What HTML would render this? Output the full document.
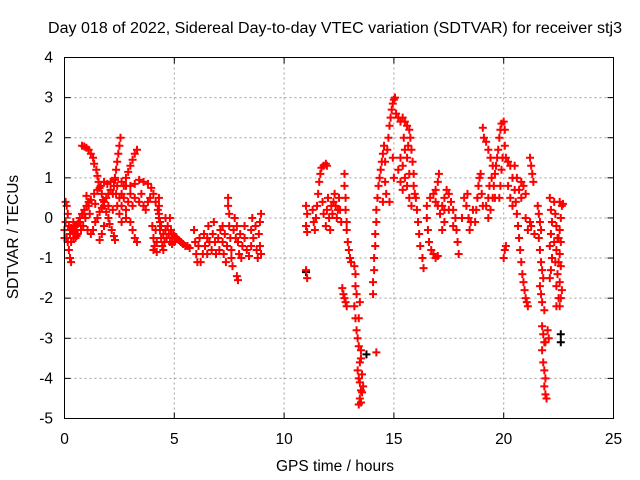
<!DOCTYPE html>
<html><head><meta charset="utf-8"><style>
body{margin:0;background:#fff}
svg{display:block;font-family:"Liberation Sans",sans-serif}
</style></head><body>
<svg id="chart" width="640" height="480" viewBox="0 0 640 480">
<text x="48" y="33" font-size="15.5" textLength="574" lengthAdjust="spacingAndGlyphs">Day 018 of 2022, Sidereal Day-to-day VTEC variation (SDTVAR) for receiver stj3</text>
<text x="0" y="0" font-size="15.5" text-anchor="middle" transform="translate(18,237) rotate(-90)">SDTVAR / TECUs</text>
<text x="335" y="471" font-size="15.5" text-anchor="middle">GPS time / hours</text>
<g id="grid"></g>
<g id="ticks"></g>
<g id="marks"></g>
<rect x="64.5" y="57.5" width="549" height="361" fill="none" stroke="#000"/>
</svg>
<script>
const xTicks=[0,5,10,15,20,25];
const yTicks=[-5,-4,-3,-2,-1,0,1,2,3,4];
const redPoints=[
[0,-0.3],[0.05,-0.1],[0.05,0.4],[0.1,0.3],[0.15,0.1],[0.1,-0.5],[0.2,-0.2],[0.25,-0.4],[0.2,-0.8],[0.25,-1.0],[0.3,-1.1],[0.3,-0.6],[0.35,-0.3],[0.4,-0.1],[0.45,-0.35],[0.5,-0.5],[0.55,-0.2],[0.6,-0.4],[0.65,-0.1],[0.7,0.0],[0.75,-0.3],[0.8,0.1],[0.85,-0.2],[0.9,0.2],[0.95,0.0],[1.0,0.3],[1.05,-0.3],[1.1,0.4],[1.15,0.1],[0.0,-0.5],[0.15,-0.6],[0.4,-0.5],[0.55,-0.45],
[0.8,1.8],[0.9,1.78],[1.0,1.75],[1.1,1.7],[1.2,1.6],[1.3,1.5],[1.35,1.35],[1.45,1.2],[1.5,1.05],[1.55,0.9],[1.6,0.75],[1.7,0.6],[1.75,0.45],[1.8,0.3],[1.9,0.15],[2.0,0.0],[2.05,-0.15],[2.15,-0.3],[2.25,-0.45],[2.3,-0.55],
[0.5,-0.3],[0.7,-0.1],[0.9,0.1],[1.1,0.3],[1.2,0.45],[1.35,0.6],[1.5,0.7],[1.65,0.8],[1.8,0.9],[1.95,0.85],[2.1,0.9],[2.3,0.95],
[1.2,-0.4],[1.3,-0.3],[1.4,-0.1],[1.5,0.0],[1.6,0.15],[1.7,0.25],[1.8,0.4],[1.9,0.5],[2.0,0.6],[2.1,0.7],[2.2,0.6],[2.4,0.8],[2.6,0.9],[2.8,0.8],[1.6,-0.55],[1.7,-0.4],[1.8,-0.2],
[2.25,0.8],[2.3,1.0],[2.35,1.2],[2.4,1.4],[2.45,1.6],[2.5,1.8],[2.55,2.0],[2.35,0.6],
[2.6,0.6],[2.7,0.8],[2.8,1.0],[2.9,1.15],[3.0,1.3],[3.1,1.45],[3.2,1.6],[3.3,1.7],
[2.4,0.3],[2.5,0.1],[2.6,0.3],[2.7,0.5],[2.8,0.2],[2.9,0.4],[3.0,0.6],[3.1,0.3],[3.2,0.5],[2.6,-0.1],[2.8,0.0],[3.0,-0.1],[3.1,-0.3],[3.2,-0.5],[3.3,-0.6],
[3.0,0.8],[3.2,0.85],[3.4,0.95],[3.6,0.9],[3.8,0.85],[3.95,0.75],[4.05,0.6],[4.15,0.4],[4.25,0.2],[4.3,0.0],[3.5,0.6],[3.6,0.3],[3.7,0.2],[3.8,0.4],[3.9,0.5],
[4.0,-0.2],[4.05,-0.5],[4.1,-0.7],[4.15,-0.3],[4.2,-0.6],[4.3,0.5],[4.3,0.3],[4.3,0.1],[4.35,-0.1],[4.35,-0.3],[4.4,-0.5],[4.45,-0.7],[4.5,-0.4],[4.55,-0.6],[4.6,0.0],[4.6,-0.3],[4.65,-0.5],[4.7,-0.2],[4.75,-0.4],[4.8,0.0],[4.8,-0.6],[4.85,-0.3],[4.9,-0.5],[4.95,-0.4],[4.9,-0.65],[5.0,-0.45],[5.1,-0.5],[5.2,-0.55],[5.3,-0.6],[5.4,-0.65],[5.5,-0.7],[5.6,-0.7],[5.7,-0.75],[4.2,-0.85],[4.5,-0.8],[4.05,-0.8],
[5.9,-0.3],[5.95,-0.6],[6.0,-0.9],[6.05,-1.1],[6.1,-0.7],[6.15,-0.5],[6.2,-1.1],[6.3,-0.9],[6.35,-0.4],[6.4,-0.7],[6.5,-0.5],[6.55,-0.2],[6.6,-0.6],[6.7,-0.8],[6.75,-0.4],[6.8,-0.1],[6.85,-0.6],[6.9,-0.9],[7.0,-0.5],[7.05,-0.8],[7.1,-0.3],[7.2,-0.6],[7.25,-0.9],[7.3,-0.4],[7.35,-1.1],[7.4,-0.7],[7.45,0.5],[7.45,0.3],[7.5,0.1],[7.5,-0.2],[7.55,-0.5],[7.6,-0.8],[7.6,-1.0],[7.65,-1.2],[7.7,-0.3],[7.75,0.0],[7.8,-0.5],[7.85,-0.2],[7.9,-0.6],[7.95,-0.9],[8.0,-0.4],[8.05,-1.0],[7.85,-1.45],[7.9,-1.55],[8.1,-0.7],[8.2,-0.5],[8.3,-0.8],[8.4,-0.95],[8.5,-0.7],[8.5,-0.3],[8.55,0.0],[8.6,-0.5],[8.7,-0.2],[8.75,-0.8],[8.8,-1.0],[8.85,-0.4],[8.9,-0.1],[8.9,-0.7],[8.95,0.1],[8.95,-0.9],
[11.0,-1.3],[11.05,-1.5],[11.0,0.3],[11.05,0.1],[11.0,-0.2],[11.05,-0.35],
[11.3,0.2],[11.35,-0.1],[11.4,-0.3],[11.45,0.0],[11.5,0.3],[11.55,0.6],[11.6,0.9],[11.65,1.1],[11.7,1.25],[11.8,1.3],[11.9,1.35],[11.95,1.3],
[11.75,0.4],[11.8,0.1],[11.9,-0.2],[11.95,0.2],[12.0,0.5],[12.05,0.0],[12.1,-0.3],[12.2,0.1],[12.25,0.4],[12.3,0.6],[12.35,0.3],[12.4,0.0],[12.45,0.2],[12.5,0.5],[12.55,0.2],[12.6,-0.1],
[12.75,1.1],[12.75,0.8],[12.8,0.5],[12.8,0.2],[12.85,-0.1],[12.85,-0.3],[12.9,-0.6],[12.95,-0.8],[13.0,-1.0],[13.05,-1.1],
[12.65,-1.75],[12.7,-1.9],[12.75,-2.0],[12.8,-2.1],[12.85,-2.2],
[13.2,-1.2],[13.25,-1.4],[13.25,-1.7],[13.3,-1.9],[13.2,-2.2],[13.25,-2.5],[13.3,-2.8],[13.35,-3.0],[13.4,-3.2],[13.4,-2.5],[13.45,-2.1],[13.5,-3.5],[13.45,-3.6],[13.5,-3.3],[13.35,-3.8],[13.4,-4.0],[13.45,-4.1],[13.55,-3.9],[13.5,-4.3],[13.45,-4.5],[13.5,-4.6],[13.4,-4.65],[13.55,-4.35],[13.6,-4.2],
[14.2,-3.35],
[14.05,-1.9],[14.05,-1.6],[14.1,-1.3],[14.1,-1.0],[14.15,-0.7],[14.15,-0.4],[14.2,-0.1],[14.2,0.2],[14.25,0.5],[14.3,0.8],[14.35,1.0],[14.4,1.2],[14.45,1.4],[14.5,1.6],[14.55,1.8],[14.6,1.4],[14.6,0.9],[14.5,0.4],[14.65,0.6],[14.7,1.7],[14.75,2.0],[14.8,2.3],[14.85,2.5],[14.9,2.7],[14.95,2.85],[15.0,2.95],[15.05,3.0],[14.95,1.5],[15.0,1.0],[14.8,0.4],
[15.2,2.5],[15.3,2.4],[15.4,2.5],[15.5,2.4],[15.6,2.3],[15.7,2.2],[15.75,2.0],[15.8,1.7],[15.85,1.4],[15.9,1.1],[15.9,0.8],[15.95,0.6],[15.3,1.5],[15.4,1.3],[15.5,1.0],[15.6,0.8],[15.7,0.5],[15.8,0.3],[15.5,1.7],[15.6,1.5],[15.2,1.2],[15.3,0.9],[15.4,0.7],[15.7,1.1],
[16.0,0.5],[16.05,0.2],[16.1,-0.1],[16.15,-0.4],[16.2,-0.7],[16.3,-1.0],[16.35,-1.25],
[16.5,0.0],[16.55,-0.3],[16.6,-0.6],[16.7,-0.8],[16.8,-0.9],[16.9,-1.0],[17.0,-0.95],[16.5,0.3],[16.65,0.5],[16.8,0.6],[16.9,0.7],[17.0,0.9],[17.05,1.1],[17.0,0.3],[17.1,0.1],[17.2,0.3],[17.3,0.5],[17.4,0.7],[17.5,0.6],[17.6,0.4],[17.7,0.2],[17.8,0.0],[17.2,-0.3],[17.3,-0.1],[17.5,0.2],[17.7,-0.2],[17.85,-0.3],[17.9,-0.6],[17.95,-0.9],
[18.2,0.5],[18.3,0.3],[18.35,0.6],[18.4,0.0],[18.45,-0.3],[18.5,-0.1],[18.6,0.2],[18.7,-0.1],[18.75,0.2],[18.8,0.5],[18.85,0.8],[18.9,1.0],[18.95,1.1],[19.0,0.6],[19.05,0.3],
[19.05,2.25],[19.1,2.0],[19.2,1.9],[19.3,1.7],[19.4,1.5],[19.5,1.3],[19.45,1.0],[19.35,0.8],[19.3,0.5],[19.2,0.3],[19.3,0.0],[19.4,0.2],[19.5,0.5],[19.55,0.8],[19.6,1.1],[19.65,1.3],[19.7,1.5],[19.75,1.7],[19.8,2.0],[19.85,2.2],[19.9,2.35],[20.0,2.4],[20.05,2.2],[20.05,1.8],[19.95,1.5],[19.9,1.2],[19.85,0.8],[19.8,0.5],[20.0,-1.0],[20.05,-0.8],[20.1,-0.7],
[20.1,1.5],[20.2,1.4],[20.3,1.3],[20.4,1.0],[20.5,0.7],[20.55,0.4],[20.6,0.1],[20.65,-0.2],[20.7,-0.5],[20.75,-0.8],[20.8,-1.1],[20.85,-1.4],[20.9,-1.6],[20.95,-1.8],[21.0,-2.0],[21.05,-2.1],[21.1,-2.2],[20.3,0.5],[20.4,0.3],[20.2,0.8],[20.6,1.0],[20.7,0.7],[20.8,0.5],[20.8,0.9],[20.9,0.8],[21.0,0.6],[21.0,0.0],[21.1,-0.3],[21.2,-0.1],[21.25,-0.2],
[21.2,1.5],[21.25,1.3],[21.3,1.1],[21.35,0.9],
[21.55,0.3],[21.6,0.1],[21.65,-0.1],[21.7,-0.3],[21.6,-0.5],[21.65,-0.8],[21.7,-1.1],[21.75,-1.3],[21.8,-1.5],[21.65,-1.7],[21.7,-1.9],[21.75,-2.1],[21.85,-2.3],[21.75,-2.7],[21.8,-2.9],[21.85,-3.1],[21.75,-3.3],[21.8,-3.6],[21.85,-3.8],[21.9,-4.0],[21.85,-4.2],[21.9,-4.4],[21.95,-4.5],[21.9,-3.1],[22.0,-2.8],[22.05,-3.0],
[22.1,0.5],[22.15,0.2],[22.2,-0.1],[22.15,-0.4],[22.1,-0.7],[22.2,-1.0],[22.15,-1.3],[22.1,-1.5],[22.3,0.4],[22.35,0.1],[22.4,-0.2],[22.45,-0.5],[22.4,-0.8],[22.35,-1.1],[22.45,-1.4],[22.4,-1.7],[22.5,-2.0],[22.55,-2.2],[22.4,-2.2],[22.6,-2.0],[22.65,-1.8],[22.55,0.4],[22.65,0.3],[22.7,0.35],[22.6,0.0],[22.55,-0.3],[22.6,-0.6],[22.55,-0.9],[22.6,-1.2],[22.5,-0.5],[22.55,-1.6],
[0.3,-0.25],[0.6,-0.15],[1.0,0.55],[1.4,0.35],[2.0,0.3],[2.2,0.2],[2.5,0.5],[3.4,0.4],[4.4,-0.2],[5.0,-0.6],[6.5,-0.9],[7.2,-0.2],[8.2,-0.2],[12.15,0.3],[15.1,2.6],[15.45,2.0],[15.65,1.8],[16.9,0.4],[17.3,0.2],[18.1,0.0],[19.6,0.5],[20.5,1.3],[21.4,-0.4],[22.3,-0.6],[22.5,-1.1]
];
const blackPoints=[[11.0,-1.35],[22.6,-2.9],[22.6,-3.1],[13.75,-3.4]];
const X0=64.5,X1=613.5,Y0=418.5,Y1=57.5,xMin=0,xMax=25,yMin=-5,yMax=4;
function xs(v){return X0+(v-xMin)/(xMax-xMin)*(X1-X0);}
function ys(v){return Y0-(v-yMin)/(yMax-yMin)*(Y0-Y1);}
const NS='http://www.w3.org/2000/svg';
const grid=document.getElementById('grid'),ticks=document.getElementById('ticks'),marks=document.getElementById('marks');
function ln(p,x1,y1,x2,y2,st,dash){const l=document.createElementNS(NS,'line');l.setAttribute('x1',x1);l.setAttribute('y1',y1);l.setAttribute('x2',x2);l.setAttribute('y2',y2);l.setAttribute('stroke',st);if(dash)l.setAttribute('stroke-dasharray',dash);p.appendChild(l);return l;}
function tx(p,x,y,s,anchor){const t=document.createElementNS(NS,'text');t.setAttribute('x',x);t.setAttribute('y',y);t.setAttribute('font-size','15.5');t.setAttribute('text-anchor',anchor);t.textContent=s;p.appendChild(t);return t;}
xTicks.forEach(v=>{const x=xs(v);
 if(v>xMin&&v<xMax){const g=ln(grid,x,Y1,x,Y0,'#a0a0a0','2,3');}
 const t1=ln(ticks,x,Y0,x,Y0-6,'#000');
 ln(ticks,x,Y1,x,Y1+6,'#000');
 const t=tx(ticks,x,444,String(v),'middle');
 
 });
yTicks.forEach(v=>{const y=ys(v);
 if(v>yMin&&v<yMax){const g=ln(grid,X0,y,X1,y,'#a0a0a0','2,3');}
 const t1=ln(ticks,X0,y,X0+6,y,'#000');
 ln(ticks,X1,y,X1-6,y,'#000');
 const t=tx(ticks,53,y+5,String(v),'end');
 
 });
function plus(p,color){const x=xs(p[0]),y=ys(p[1]);const path=document.createElementNS(NS,'path');
 path.setAttribute('d',`M${x-4} ${y}H${x+4}M${x} ${y-4}V${y+4}`);
 path.setAttribute('stroke',color);path.setAttribute('stroke-width','2');
 
 
 marks.appendChild(path);}
blackPoints.forEach(p=>plus(p,'#000'));
redPoints.forEach(p=>plus(p,'#ff0000'));
</script>
</body></html>
